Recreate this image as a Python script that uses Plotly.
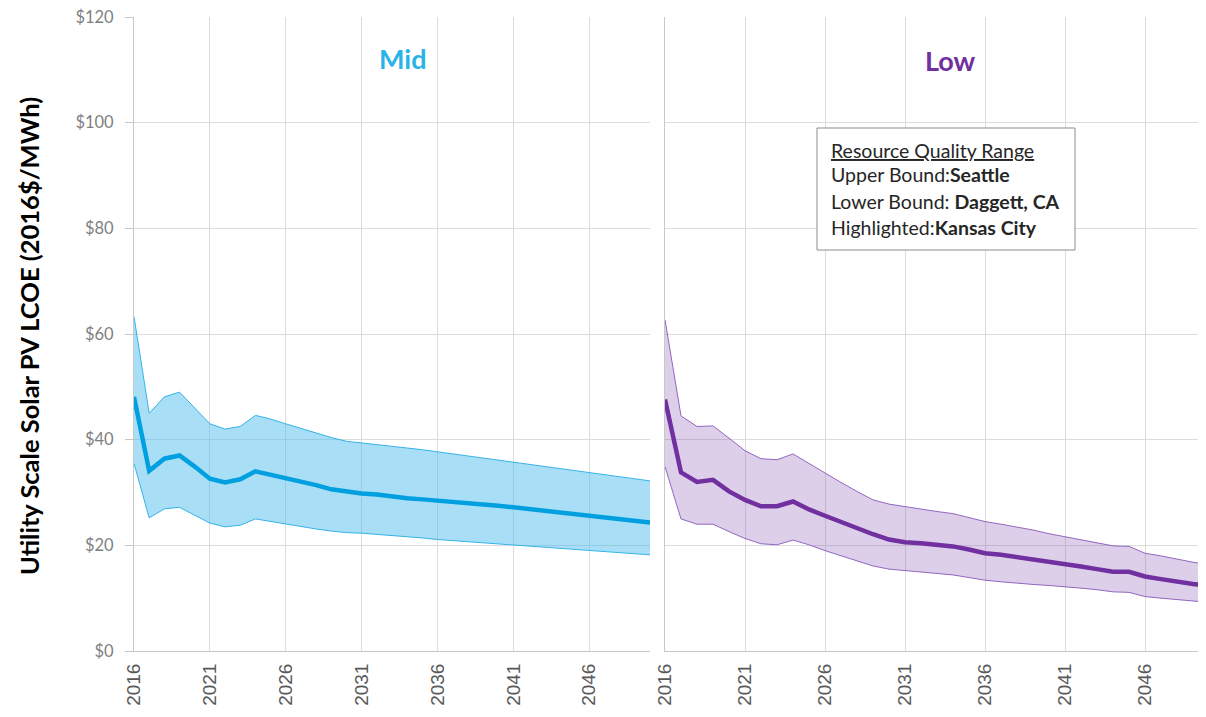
import plotly.graph_objects as go

years = list(range(2016, 2051))

mid_central = [48.1, 34.1, 36.4, 37.0, 34.9, 32.6, 31.9, 32.5, 34.0, 33.4, 32.6, 32.0, 31.4, 30.6, 30.1, 29.8, 29.6,
               29.2, 28.9, 28.7, 28.5, 28.2, 28.0, 27.7, 27.5, 27.2, 26.9, 26.6, 26.1, 25.8, 25.6, 25.3, 25.0, 24.7, 24.3]
mid_upper = [63.3, 45.0, 48.1, 49.0, 46.0, 43.0, 42.0, 42.5, 44.6, 43.9, 43.0, 42.1, 41.3, 40.4, 39.7, 39.4, 39.1,
             38.7, 38.4, 38.1, 37.7, 37.3, 36.9, 36.5, 36.2, 35.8, 35.4, 35.0, 34.5, 34.1, 33.7, 33.3, 32.9, 32.5, 32.2]
mid_lower = [35.5, 25.2, 26.9, 27.2, 25.7, 24.2, 23.5, 23.8, 25.0, 24.5, 24.0, 23.5, 23.1, 22.7, 22.4, 22.3, 22.1,
             21.9, 21.6, 21.4, 21.1, 20.9, 20.6, 20.4, 20.2, 20.0, 19.8, 19.6, 19.4, 19.2, 19.0, 18.8, 18.6, 18.4, 18.2]

low_central = [47.6, 33.8, 32.0, 32.4, 30.2, 28.6, 27.4, 27.4, 28.3, 26.8, 25.6, 24.4, 23.3, 22.1, 21.1, 20.6, 20.4,
               20.1, 19.8, 19.2, 18.5, 18.2, 17.8, 17.3, 16.9, 16.5, 16.0, 15.5, 15.0, 15.0, 14.1, 13.6, 13.1, 12.7, 12.4]
low_upper = [62.7, 44.5, 42.5, 42.6, 40.3, 37.9, 36.4, 36.2, 37.3, 35.5, 33.6, 31.9, 30.2, 28.6, 27.8, 27.3, 26.8,
             26.4, 26.0, 25.3, 24.5, 24.0, 23.5, 22.9, 22.2, 21.6, 21.0, 20.4, 19.9, 19.8, 18.5, 18.0, 17.4, 16.8, 16.4]
low_lower = [34.9, 25.0, 24.0, 24.0, 22.6, 21.3, 20.3, 20.1, 21.0, 20.1, 19.0, 18.0, 17.0, 16.1, 15.5, 15.2, 15.0,
             14.7, 14.4, 13.9, 13.4, 13.1, 12.8, 12.6, 12.4, 12.2, 11.9, 11.6, 11.2, 11.1, 10.3, 10.0, 9.7, 9.4, 9.2]

year_ticks = list(range(2016, 2051, 5))
y_ticks = [0, 20, 40, 60, 80, 100, 120]
y_tick_labels = ["$0", "$20", "$40", "$60", "$80", "$100", "$120"]

# page has an 8px body margin; figure sized to fit the 1206x717 window exactly
OFF = 8
W, H = 1206 - OFF, 717 - OFF


def px(X):
    return (X - OFF) / W


def py(Y):
    return 1 - (Y - OFF) / H


MID_LINE = "#00a0e0"
MID_EDGE = "#35b3e8"
MID_FILL = "rgba(64,183,236,0.45)"
LOW_LINE = "#7030a0"
LOW_EDGE = "#9466c0"
LOW_FILL = "rgba(132,84,180,0.28)"

fig = go.Figure()


def band(xa, ya, lower, upper, central, edge, fill, line):
    fig.add_trace(go.Scatter(x=years, y=lower, mode="lines", line=dict(color=edge, width=1),
                             xaxis=xa, yaxis=ya, showlegend=False, hoverinfo="skip"))
    fig.add_trace(go.Scatter(x=years, y=upper, mode="lines", line=dict(color=edge, width=1),
                             fill="tonexty", fillcolor=fill,
                             xaxis=xa, yaxis=ya, showlegend=False, hoverinfo="skip"))
    fig.add_trace(go.Scatter(x=years, y=central, mode="lines", line=dict(color=line, width=4.5),
                             xaxis=xa, yaxis=ya, showlegend=False))


band("x", "y", mid_lower, mid_upper, mid_central, MID_EDGE, MID_FILL, MID_LINE)
band("x2", "y2", low_lower, low_upper, low_central, LOW_EDGE, LOW_FILL, LOW_LINE)

ydom = [py(651), py(17)]
grid = "#dcdcdc"
xcommon = dict(tickmode="array", tickvals=year_ticks, ticktext=[str(t) for t in year_ticks],
               tickangle=-90, showgrid=True, gridcolor=grid, gridwidth=1, zeroline=False,
               showline=True, linecolor="#c8c8c8", linewidth=1, ticks="", automargin=False,
               ticklabelstandoff=4, ticklabeloverflow="allow",
               tickfont=dict(family="Liberation Sans, Arial", size=19, color="#595959"))
ycommon = dict(range=[0, 120], tickmode="array", tickvals=y_ticks, showgrid=True, gridcolor=grid,
               gridwidth=1, zeroline=False, showline=True, linecolor="#c8c8c8", linewidth=1,
               domain=ydom, automargin=False)

fig.update_layout(
    width=W, height=H, margin=dict(l=0, r=0, t=0, b=0, autoexpand=False),
    paper_bgcolor="white", plot_bgcolor="white", showlegend=False,
    xaxis=dict(domain=[px(134), px(650)], range=[2016, 2050], anchor="y", **xcommon),
    xaxis2=dict(domain=[px(665), 1.0], range=[2016, 2016 + (1206 - 665) / 16.0], anchor="y2", **xcommon),
    yaxis=dict(anchor="x", ticktext=y_tick_labels, ticks="outside", ticklen=8, tickcolor="#c8c8c8",
               ticklabelstandoff=8, ticklabeloverflow="allow",
               tickfont=dict(family="Lato, Open Sans", size=16.5, color="#7f7f7f"), **ycommon),
    yaxis2=dict(anchor="x2", showticklabels=False, ticks="", **ycommon),
)

# Y axis title
fig.add_annotation(text="<b>Utility Scale Solar PV LCOE (2016$/MWh)</b>", x=px(29), y=py(336),
                   xref="paper", yref="paper", xanchor="center", yanchor="middle",
                   textangle=-90, showarrow=False,
                   font=dict(family="Lato, Open Sans", size=25.5, color="black"))

# Panel titles
fig.add_annotation(text="<b>Mid</b>", x=px(403), y=py(58), xref="paper", yref="paper",
                   xanchor="center", yanchor="middle",
                   showarrow=False, font=dict(family="Lato, Open Sans", size=27, color="#29b3e8"))
fig.add_annotation(text="<b>Low</b>", x=px(950), y=py(60), xref="paper", yref="paper",
                   xanchor="center", yanchor="middle",
                   showarrow=False, font=dict(family="Lato, Open Sans", size=27, color="#7030a0"))

# Resource quality box
fig.add_shape(type="rect", xref="paper", yref="paper", x0=px(817), x1=px(1075),
              y0=py(250), y1=py(128), line=dict(color="#8c8c8c", width=1),
              fillcolor="white", layer="above")
box_lines = ["<u>Resource Quality Range</u>",
             "Upper Bound:<b>Seattle</b>",
             "Lower Bound: <b>Daggett, CA</b>",
             "Highlighted:<b>Kansas City</b>"]
box_y = [150, 175, 201, 228]
for txt, yy in zip(box_lines, box_y):
    fig.add_annotation(text=txt, x=px(829), y=py(yy), xref="paper", yref="paper",
                       xanchor="left", yanchor="middle", showarrow=False,
                       font=dict(family="Lato, Open Sans", size=19.5, color="#262626"))

fig.write_html("out.html")
